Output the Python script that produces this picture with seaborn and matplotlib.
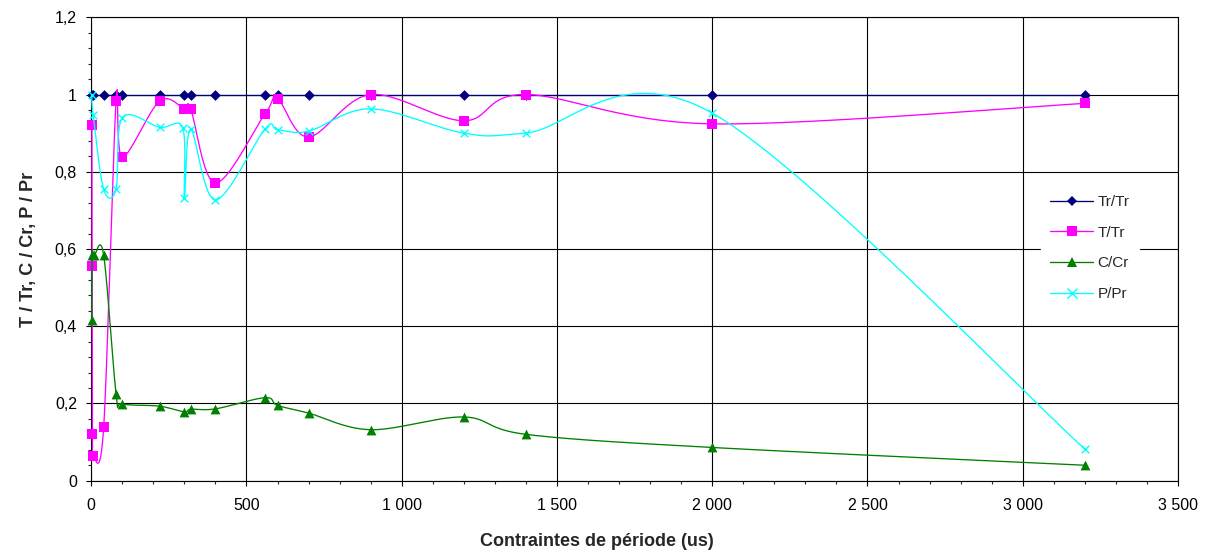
import numpy as np
import pandas as pd
import matplotlib
matplotlib.use("Agg")
import matplotlib.pyplot as plt
from matplotlib.lines import Line2D
from matplotlib.ticker import MultipleLocator, FuncFormatter
import seaborn as sns

# Values (period constraint in us)
x_tr = [2, 5, 40, 80, 100, 220, 300, 320, 400, 560, 600, 700, 900, 1200, 1400, 2000, 3200]
y_tr = [1.0, 1.0, 1.0, 1.0, 1.0, 1.0, 1.0, 1.0, 1.0, 1.0, 1.0, 1.0, 1.0, 1.0, 1.0, 1.0, 1.0]

x_t = [2, 3, 4, 6, 40, 80, 100, 220, 300, 320, 400, 560, 600, 700, 900, 1200, 1400, 2000, 3200]
y_t = [0.92, 0.556, 0.12, 0.065, 0.138, 0.983, 0.837, 0.983, 0.963, 0.963, 0.771, 0.95, 0.989,
       0.89, 1.0, 0.932, 1.0, 0.924, 0.977]

x_c = [2, 3, 10, 40, 80, 100, 220, 300, 320, 400, 560, 600, 700, 900, 1200, 1400, 2000, 3200]
y_c = [0.416, 0.584, 0.584, 0.584, 0.225, 0.199, 0.193, 0.178, 0.185, 0.186, 0.215, 0.195,
       0.175, 0.132, 0.165, 0.12, 0.086, 0.04]

x_p = [2, 6, 40, 80, 100, 220, 295, 300, 320, 400, 560, 600, 700, 900, 1200, 1400, 2000, 3200]
y_p = [0.998, 0.948, 0.755, 0.755, 0.94, 0.915, 0.913, 0.733, 0.91, 0.727, 0.911, 0.909,
       0.905, 0.963, 0.9, 0.9, 0.952, 0.082]

labels = ["Tr/Tr", "T/Tr", "C/Cr", "P/Pr"]
colors = ["#000080", "#FF00FF", "#008000", "#00FFFF"]
markers = ["D", "s", "^", "x"]
msizes = [30, 48, 50, 30]


def smooth(xs, ys, n=30):
    # Excel style smoothed line: bezier segments through the points
    p = np.column_stack([xs, ys]).astype(float)
    pe = np.vstack([p[0], p, p[-1]])
    out = []
    t = np.linspace(0, 1, n)[:, None]
    for i in range(len(p) - 1):
        p0, p1, p2, p3 = pe[i], pe[i + 1], pe[i + 2], pe[i + 3]
        c1 = p1 + (p2 - p0) / 6
        c2 = p2 - (p3 - p1) / 6
        seg = (1 - t) ** 3 * p1 + 3 * (1 - t) ** 2 * t * c1 + 3 * (1 - t) * t ** 2 * c2 + t ** 3 * p2
        out.append(seg if i == 0 else seg[1:])
    return np.vstack(out)


sns.set_style("white")
plt.rcParams['font.family'] = ['Liberation Sans', 'DejaVu Sans']

fig = plt.figure(figsize=(12.15, 5.57), dpi=100)
ax = fig.add_axes([0.0751, 0.137, 0.8944, 0.832])

series = [(x_tr, y_tr), (x_t, y_t), (x_c, y_c), (x_p, y_p)]
for k, (xs, ys) in enumerate(series):
    curve = smooth(xs, ys)
    df = pd.DataFrame({"x": curve[:, 0], "y": curve[:, 1]})
    sns.lineplot(data=df, x="x", y="y", sort=False, estimator=None, color=colors[k],
                 linewidth=0.95, ax=ax, zorder=3 + 2 * k)
    pts = pd.DataFrame({"x": xs, "y": ys})
    if markers[k] == "x":
        sns.scatterplot(data=pts, x="x", y="y", marker="x", s=msizes[k], color=colors[k],
                        linewidth=1.0, ax=ax, zorder=4 + 2 * k, clip_on=False)
    else:
        sns.scatterplot(data=pts, x="x", y="y", marker=markers[k], s=msizes[k], color=colors[k],
                        edgecolor=colors[k], linewidth=0, ax=ax, zorder=4 + 2 * k, clip_on=False)

ax.set_xlim(0, 3500)
ax.set_ylim(0, 1.2)
ax.xaxis.set_major_locator(MultipleLocator(500))
ax.xaxis.set_minor_locator(MultipleLocator(100))
ax.yaxis.set_major_locator(MultipleLocator(0.2))
ax.yaxis.set_minor_locator(MultipleLocator(0.04))
ax.xaxis.set_major_formatter(FuncFormatter(lambda v, p: f"{int(round(v)):,}".replace(",", " ")))
ax.yaxis.set_major_formatter(FuncFormatter(lambda v, p: f"{v:g}".replace(".", ",")))
ax.tick_params(axis="both", which="major", direction="out", length=3.3, width=0.8,
               labelsize=11.5, colors="black", bottom=True, left=True)
ax.tick_params(axis="both", which="minor", direction="out", length=2.3, width=0.8,
               bottom=True, left=True)
ax.tick_params(axis="x", which="major", pad=9)
ax.tick_params(axis="y", which="major", pad=7)

ax.grid(True, which="major", color="black", linewidth=0.8)
ax.set_axisbelow(True)
for s in ax.spines.values():
    s.set_color("black")
    s.set_linewidth(0.8)
    s.set_visible(True)

ax.set_xlabel("Contraintes de période (us)", fontsize=13, fontweight="bold")
ax.set_ylabel("T / Tr, C / Cr, P / Pr", fontsize=13, fontweight="bold")
ax.xaxis.set_label_coords(0.465, -0.112)
ax.yaxis.set_label_coords(-0.050, 0.498)

handles = [Line2D([], [], color=colors[k], marker=markers[k], markersize=6.5 if k else 5.5,
                  linewidth=0.95, markeredgewidth=1.0 if markers[k] == "x" else 0)
           for k in range(4)]
leg = ax.legend(handles, labels, loc="center", bbox_to_anchor=(0.919, 0.502), frameon=True,
                fontsize=11, labelspacing=1.09, handlelength=2.8, handletextpad=0.3,
                borderpad=0.6, fancybox=False)
leg.get_frame().set_edgecolor("white")
leg.get_frame().set_facecolor("white")
leg.get_frame().set_alpha(1.0)
leg.set_zorder(20)

fig.savefig("out.png", dpi=100)
